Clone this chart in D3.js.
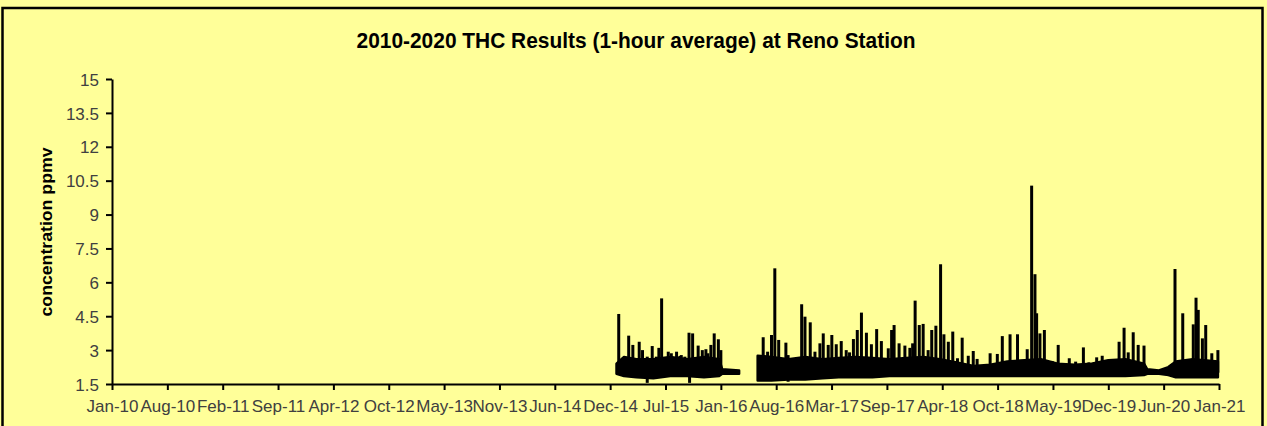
<!DOCTYPE html>
<html>
<head>
<meta charset="utf-8">
<script src="https://cdn.jsdelivr.net/npm/d3@7"></script>
<style>
  html, body { margin: 0; padding: 0; background: #ffff99; }
  svg { display: block; }
</style>
</head>
<body>
<div id="chart"></div>
<script>
// axis labels
const chartTitle = "2010-2020 THC Results (1-hour average) at Reno Station";
const yTitle = "concentration ppmv";
const yTicks = [1.5, 3, 4.5, 6, 7.5, 9, 10.5, 12, 13.5, 15];
const xTickLabels = ["Jan-10", "Aug-10", "Feb-11", "Sep-11", "Apr-12", "Oct-12", "May-13", "Nov-13",
  "Jun-14", "Dec-14", "Jul-15", "Jan-16", "Aug-16", "Mar-17", "Sep-17", "Apr-18", "Oct-18",
  "May-19", "Dec-19", "Jun-20", "Jan-21"];

// dense hourly band: [date, low, high]; null row = data gap
const band = [
  ["2015-01-19", 1.95, 2.4], ["2015-02-15", 1.85, 2.7], ["2015-04-01", 1.8, 2.6],
  ["2015-06-01", 1.75, 2.6], ["2015-08-01", 1.85, 2.7], ["2015-10-01", 1.85, 2.6],
  ["2015-12-01", 1.8, 2.7], ["2016-01-25", 1.85, 2.6], ["2016-02-05", 1.95, 2.15],
  ["2016-04-06", 1.95, 2.1],
  ["2016-05-01", null, null],
  ["2016-06-12", 1.65, 2.75], ["2016-08-01", 1.65, 2.7], ["2016-10-01", 1.7, 2.6],
  ["2016-12-01", 1.7, 2.7], ["2017-02-01", 1.75, 2.6], ["2017-04-01", 1.8, 2.65],
  ["2017-06-01", 1.8, 2.7], ["2017-08-01", 1.8, 2.65], ["2017-10-01", 1.85, 2.6],
  ["2017-12-01", 1.85, 2.65], ["2018-02-01", 1.85, 2.7], ["2018-04-01", 1.85, 2.6],
  ["2018-06-01", 1.85, 2.45], ["2018-08-01", 1.85, 2.3], ["2018-10-01", 1.85, 2.35],
  ["2018-12-01", 1.85, 2.5], ["2019-02-01", 1.85, 2.55], ["2019-04-01", 1.85, 2.6],
  ["2019-06-01", 1.85, 2.4], ["2019-08-01", 1.85, 2.35], ["2019-10-01", 1.85, 2.4],
  ["2019-12-01", 1.85, 2.55], ["2020-02-01", 1.85, 2.6], ["2020-04-08", 1.9, 2.4],
  ["2020-04-20", 1.95, 2.15], ["2020-06-01", 1.95, 2.1], ["2020-07-05", 1.9, 2.25],
  ["2020-08-01", 1.8, 2.5], ["2020-10-01", 1.8, 2.6], ["2020-12-31", 1.8, 2.5]
];

// individual hourly peaks (ppmv)
const spikes = [
  ["2015-01-27", 4.6], ["2015-02-18", 2.71], ["2015-03-04", 3.64], ["2015-03-19", 3.23],
  ["2015-04-01", 2.49], ["2015-04-11", 3.37], ["2015-04-23", 3.0], ["2015-05-10", 2.71],
  ["2015-05-28", 3.18], ["2015-06-12", 2.71], ["2015-06-21", 3.1], ["2015-07-01", 5.29],
  ["2015-07-25", 2.93], ["2015-08-05", 2.86], ["2015-08-24", 2.93], ["2015-09-05", 2.74],
  ["2015-09-10", 2.78], ["2015-09-23", 2.71], ["2015-10-08", 3.77], ["2015-10-21", 3.74],
  ["2015-11-10", 3.2], ["2015-11-25", 3.0], ["2015-12-08", 3.04], ["2015-12-15", 2.86],
  ["2015-12-26", 3.23], ["2016-01-07", 3.74], ["2016-01-22", 3.48], ["2016-01-31", 3.0],
  ["2016-07-02", 3.57], ["2016-07-18", 2.93], ["2016-08-01", 3.67], ["2016-08-13", 6.62],
  ["2016-08-27", 3.45], ["2016-09-22", 3.33], ["2016-09-30", 2.78], ["2016-10-26", 2.55],
  ["2016-11-18", 5.03], ["2016-11-30", 4.48], ["2016-12-19", 4.23], ["2017-01-05", 2.93],
  ["2017-01-23", 3.3], ["2017-02-04", 3.74], ["2017-02-22", 3.23], ["2017-03-07", 3.67],
  ["2017-03-23", 3.26], ["2017-04-10", 3.4], ["2017-04-28", 3.0], ["2017-05-10", 2.9],
  ["2017-05-24", 3.49], ["2017-06-07", 3.89], ["2017-06-22", 4.66], ["2017-07-10", 3.77],
  ["2017-07-28", 3.26], ["2017-08-16", 3.93], ["2017-09-02", 3.4], ["2017-09-27", 3.08],
  ["2017-10-09", 3.89], ["2017-10-18", 4.11], ["2017-11-05", 3.3], ["2017-11-26", 3.2],
  ["2017-12-14", 3.1], ["2017-12-24", 3.3], ["2018-01-02", 5.19], ["2018-01-17", 4.11],
  ["2018-01-31", 4.16], ["2018-02-18", 3.0], ["2018-03-03", 3.89], ["2018-03-18", 4.08],
  ["2018-04-04", 6.8], ["2018-04-16", 3.7], ["2018-05-02", 3.37], ["2018-05-18", 3.82],
  ["2018-06-04", 2.64], ["2018-06-21", 3.55], ["2018-07-13", 2.75], ["2018-07-31", 2.96],
  ["2018-08-14", 2.61], ["2018-09-30", 2.86], ["2018-10-26", 2.83], ["2018-11-13", 3.62],
  ["2018-12-11", 3.7], ["2019-01-07", 3.7], ["2019-02-11", 3.04], ["2019-02-27", 10.28],
  ["2019-03-11", 6.36], ["2019-03-17", 4.63], ["2019-03-29", 3.74], ["2019-04-14", 3.89],
  ["2019-05-12", 2.52], ["2019-06-03", 3.23], ["2019-07-13", 2.64], ["2019-08-05", 2.49],
  ["2019-09-02", 3.12], ["2019-09-22", 2.46], ["2019-10-20", 2.68], ["2019-11-09", 2.75],
  ["2019-12-28", 2.56], ["2020-01-09", 3.37], ["2020-01-27", 3.99], ["2020-02-11", 2.9],
  ["2020-02-29", 3.79], ["2020-03-18", 3.23], ["2020-04-08", 3.2], ["2020-07-29", 6.59],
  ["2020-08-26", 4.63], ["2020-09-13", 2.56], ["2020-10-03", 4.14], ["2020-10-13", 5.32],
  ["2020-10-21", 4.78], ["2020-11-05", 3.52], ["2020-11-17", 4.11], ["2020-12-09", 2.86],
  ["2020-12-31", 3.0]
];

// low readings that dip below the band
const dips = [["2015-05-10", 1.55], ["2015-10-10", 1.55], ["2016-09-30", 1.6]];

const W = 1267, H = 426;
const parse = d3.utcParse("%Y-%m-%d");
const axisStart = new Date(Date.UTC(2010, 0, 22));
const tickDates = xTickLabels.map((t, i) => d3.utcDay.offset(axisStart, 200 * i));

const x = d3.scaleUtc().domain([axisStart, tickDates[tickDates.length - 1]]).range([112, 1219]);
const y = d3.scaleLinear().domain([1.5, 15]).range([384, 79]);

const svg = d3.select("#chart").append("svg")
  .attr("width", W).attr("height", H);

svg.append("rect").attr("width", W).attr("height", H).attr("fill", "#ffff99");
svg.append("rect")
  .attr("x", 2.5).attr("y", 8).attr("width", 1260).attr("height", 440)
  .attr("fill", "none").attr("stroke", "#000").attr("stroke-width", 2.5);

svg.append("text")
  .attr("x", 636).attr("y", 48)
  .attr("text-anchor", "middle")
  .attr("font-family", "'Liberation Sans Narrow', 'Liberation Sans', sans-serif")
  .attr("font-weight", "bold").attr("font-size", 22)
  .attr("textLength", 559).attr("lengthAdjust", "spacingAndGlyphs")
  .text(chartTitle);

svg.append("text")
  .attr("transform", "translate(52,232) rotate(-90)")
  .attr("text-anchor", "middle")
  .attr("font-family", "'Liberation Sans Narrow', 'Liberation Sans', sans-serif")
  .attr("font-weight", "bold").attr("font-size", 17)
  .attr("textLength", 169).attr("lengthAdjust", "spacingAndGlyphs")
  .text(yTitle);

// data marks
const plot = svg.append("g");
const rows = band.map(d => ({ date: parse(d[0]), lo: d[1], hi: d[2] }));
const area = d3.area()
  .defined(d => d.hi != null)
  .x(d => x(d.date)).y0(d => y(d.lo)).y1(d => y(d.hi));
plot.append("path")
  .attr("d", area(rows))
  .attr("fill", "#000").attr("stroke", "#000").attr("stroke-width", 2.5)
  .attr("stroke-linejoin", "round");

plot.selectAll("line.spike")
  .data(spikes.concat(dips))
  .join("line")
  .attr("class", "spike")
  .attr("x1", d => x(parse(d[0]))).attr("x2", d => x(parse(d[0])))
  .attr("y1", y(2.0)).attr("y2", d => y(d[1]))
  .attr("stroke", "#000").attr("stroke-width", 3);

// axes
const yAxis = svg.append("g").attr("transform", "translate(112,0)")
  .call(d3.axisLeft(y).tickValues(yTicks).tickFormat(d3.format("")).tickSize(6).tickSizeOuter(0));
const xAxis = svg.append("g").attr("transform", "translate(0,384)")
  .call(d3.axisBottom(x).tickValues(tickDates).tickFormat((d, i) => xTickLabels[i]).tickSize(6).tickSizeOuter(0));

[yAxis, xAxis].forEach(g => {
  g.select(".domain").attr("stroke", "#000").attr("stroke-width", 2);
  g.selectAll(".tick line").attr("stroke", "#000").attr("stroke-width", 2);
  g.selectAll(".tick text")
    .attr("fill", "#404040")
    .attr("font-family", "'Liberation Sans', Arial, sans-serif")
    .attr("font-size", 17);
});
yAxis.selectAll(".tick text").attr("x", -13).attr("dy", "0.36em");
xAxis.selectAll(".tick text").attr("y", 16);
</script>
</body>
</html>
